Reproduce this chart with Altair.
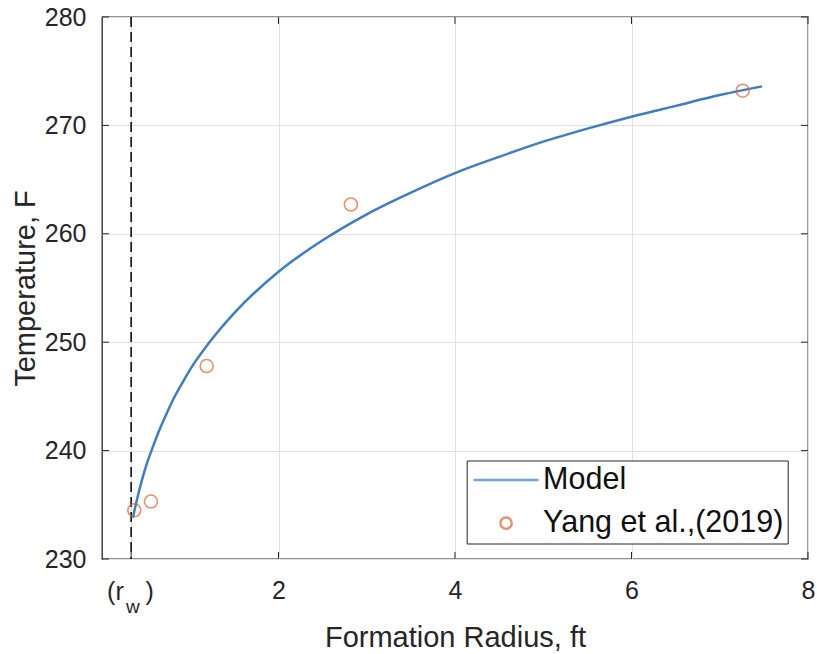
import altair as alt
import pandas as pd

# ---- data ----
r_model = [0.35, 0.40, 0.45, 0.50, 0.57, 0.65, 0.72, 0.80, 0.90, 1.0, 1.2, 1.5,
           2.0, 2.5, 3.0, 3.5, 4.0, 4.5, 5.0, 5.5, 6.0, 6.5, 7.0, 7.48]
t_model = [233.8, 235.6, 237.2, 238.6, 240.2, 241.9, 243.2, 244.6, 246.1, 247.5,
           249.8, 252.7, 256.5, 259.4, 261.8, 263.8, 265.6, 267.1, 268.5, 269.7,
           270.8, 271.8, 272.8, 273.6]
r_obs = [0.366, 0.555, 1.186, 2.82, 7.26]
t_obs = [234.5, 235.3, 247.8, 262.7, 273.2]
r_w = [0.33]
x_ticks = [0.33, 2, 4, 6, 8]
y_ticks = [230, 240, 250, 260, 270, 280]
series = ["Model", "Yang et al.,(2019)"]

FONT = "Liberation Sans"
INK = "#262626"
BLUE = "#3F7DC6"
ORANGE = "#DE6332"
W, H = 706, 542

model_df = pd.DataFrame({"r": r_model, "T": t_model, "series": series[0]})
obs_df = pd.DataFrame({"r": r_obs, "T": t_obs, "series": series[1]})
rw_df = pd.DataFrame({"r": r_w})
xt_df = pd.DataFrame({"r": x_ticks})
yt_df = pd.DataFrame({"T": y_ticks})

xscale = alt.Scale(domain=[0, 8], nice=False, zero=False)
yscale = alt.Scale(domain=[230, 280], nice=False, zero=False)

xaxis = alt.Axis(
    values=x_ticks, labelExpr="datum.value < 1 ? '' : datum.label",
    ticks=False, tickSize=0, domain=False, grid=True, gridColor="#e2e2e2",
    labelFontSize=25, labelFont=FONT, labelColor=INK, labelBaseline="alphabetic",
    labelPadding=39, labelFlush=False, labelOverlap=False,
    title="Formation Radius, ft", titleFontSize=29, titleFont=FONT,
    titleFontWeight="normal", titleColor=INK, titleBaseline="alphabetic",
    titleY=87, titleX=W / 2, titleAlign="center")
yaxis = alt.Axis(
    values=y_ticks, ticks=False, tickSize=0, domain=False, grid=True,
    gridColor="#e2e2e2", labelFontSize=25, labelFont=FONT, labelColor=INK,
    labelPadding=16, labelFlush=False, labelOverlap=False,
    title="Temperature, F", titleFontSize=29, titleFont=FONT,
    titleFontWeight="normal", titleColor=INK, titleBaseline="alphabetic",
    titleAngle=270, titleX=-68, titleY=H / 2, titleAlign="center")


def X(f="r"):
    return alt.X(f"{f}:Q", scale=xscale, axis=xaxis)


def Y(f="T"):
    return alt.Y(f"{f}:Q", scale=yscale, axis=yaxis)


legend = alt.Legend(
    title=None, orient="none", legendX=364.7, legendY=443.5,
    padding=4.2, symbolOffset=19.9, labelOffset=21.8, rowPadding=12.2,
    labelFontSize=30.5, labelFont=FONT, labelColor="#111111", labelLimit=500,
    symbolSize=130, symbolStrokeWidth=2.4, symbolFillColor="transparent",
    strokeColor=INK, fillColor="white")

color = alt.Color("series:N", scale=alt.Scale(domain=series, range=[BLUE, ORANGE]),
                  legend=legend)
shape = alt.Shape("series:N", scale=alt.Scale(domain=series,
                                              range=["M-5.7,0H5.7", "circle"]),
                  legend=legend)

rw_line = alt.Chart(rw_df).mark_rule(
    color="black", strokeDash=[10, 5], strokeWidth=1.5).encode(x=X())

model = alt.Chart(model_df).mark_line(
    strokeWidth=2.5, interpolate="monotone").encode(x=X(), y=Y(), color=color)

obs = alt.Chart(obs_df).mark_point(
    filled=False, size=169, strokeWidth=1.6).encode(
    x=X(), y=Y(), color=color, shape=shape)

xt_bottom = alt.Chart(xt_df).mark_rule(color=INK, strokeWidth=1).encode(
    x=X(), y=alt.value(H), y2=alt.value(H - 7))
xt_top = alt.Chart(xt_df).mark_rule(color=INK, strokeWidth=1).encode(
    x=X(), y=alt.value(0), y2=alt.value(7))
yt_left = alt.Chart(yt_df).mark_rule(color=INK, strokeWidth=1).encode(
    y=Y(), x=alt.value(0), x2=alt.value(7))
yt_right = alt.Chart(yt_df).mark_rule(color=INK, strokeWidth=1).encode(
    y=Y(), x=alt.value(W - 7), x2=alt.value(W))

rw_open = alt.Chart(rw_df).mark_text(
    text="(r", align="left", baseline="alphabetic", dx=-24, fontSize=25,
    font=FONT, color=INK).encode(x=X(), y=alt.value(H + 41))
rw_sub = alt.Chart(rw_df).mark_text(
    text="w", align="left", baseline="alphabetic", dx=-5, fontSize=19,
    font=FONT, color=INK).encode(x=X(), y=alt.value(H + 54))
rw_close = alt.Chart(rw_df).mark_text(
    text=")", align="left", baseline="alphabetic", dx=14.5, fontSize=25,
    font=FONT, color=INK).encode(x=X(), y=alt.value(H + 41))

chart = alt.layer(
    rw_line, model, obs, xt_bottom, xt_top, yt_left, yt_right,
    rw_open, rw_sub, rw_close
).properties(
    width=W, height=H,
    autosize=alt.AutoSizeParams(type="none"),
    padding={"left": 102, "top": 17, "right": 9, "bottom": 95},
    background="white",
).configure_view(stroke=INK, strokeWidth=1.3)

chart.save("out.html", embed_options={"renderer": "svg", "actions": False})
